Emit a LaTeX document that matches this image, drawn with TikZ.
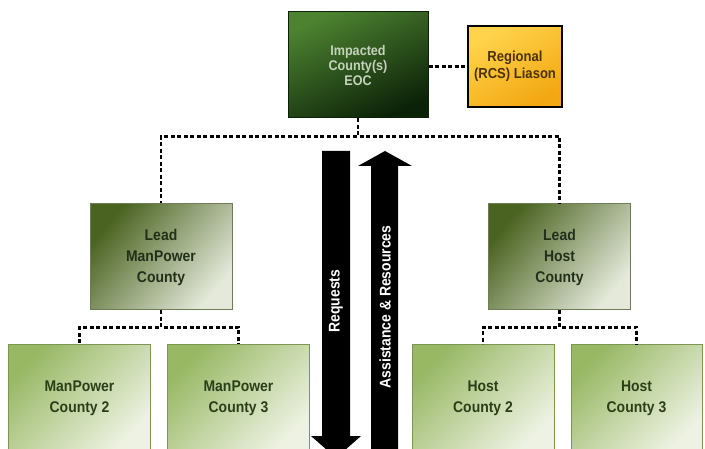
\documentclass[tikz,border=0pt]{standalone}
\usepackage{fontspec}
\setmainfont{Liberation Sans}[FakeStretch=0.9]
\usetikzlibrary{calc}
\definecolor{eoctop}{HTML}{4C8230}
\definecolor{eocmid}{HTML}{1F4A16}
\definecolor{eocbot}{HTML}{0C2208}
\definecolor{eoctext}{HTML}{C4D2BC}
\definecolor{leadtop}{HTML}{4A6320}
\definecolor{leadmid}{HTML}{66803B}
\definecolor{leadbot}{HTML}{E4E9DA}
\definecolor{leadline}{HTML}{6E7D58}
\definecolor{leadtext}{HTML}{22301A}
\definecolor{cotop}{HTML}{98B864}
\definecolor{comid}{HTML}{A5C374}
\definecolor{cobot}{HTML}{EDF2E2}
\definecolor{coline}{HTML}{7D9652}
\definecolor{cotext}{HTML}{2A3F18}
\definecolor{rcstop}{HTML}{FFD44C}
\definecolor{rcsbot}{HTML}{F3A712}
\definecolor{rcstext}{HTML}{4A3300}

\begin{document}
\begin{tikzpicture}[x=1pt,y=-1pt,
  box/.style={rectangle,align=center,inner sep=0pt,line width=1pt,
    font=\bfseries\fontsize{15.5}{21}\selectfont},
  eocbox/.style={box,draw=eocbot,top color=eoctop,middle color=eocmid,
    bottom color=eocbot,shading angle=25,text=eoctext,minimum width=140pt,
    minimum height=106pt,font=\bfseries\fontsize{14}{15}\selectfont},
  rcsbox/.style={box,draw=black,line width=1.6pt,top color=rcstop,bottom color=rcsbot,
    shading angle=30,text=rcstext,minimum width=94pt,minimum height=81pt,
    font=\bfseries\fontsize{14.5}{17}\selectfont},
  leadbox/.style={box,draw=leadline,top color=leadtop,middle color=leadmid,
    bottom color=leadbot,shading angle=50,text=leadtext,minimum width=142pt,
    minimum height=106pt},
  cobox/.style={box,draw=coline,top color=cotop,middle color=comid,
    bottom color=cobot,shading angle=45,text=cotext,minimum width=142pt,
    minimum height=106pt},
  link/.style={draw=black,line width=2.6pt,dash pattern=on 4pt off 2.5pt},
  arrowtext/.style={text=white,rotate=90,font=\bfseries\fontsize{15.5}{17}\selectfont}
  ]
  \clip (0,0) rectangle (705,449);
  \fill[white] (0,0) rectangle (705,449);

  \node[eocbox] (eoc) at (358,65) {Impacted\\County(s)\\EOC};
  \node[rcsbox] (rcs) at (515,66.5) {Regional\\(RCS) Liason};
  \node[leadbox] (leadmp) at (161,257) {Lead\\ManPower\\County};
  \node[leadbox] (leadhost) at (559.5,257) {Lead\\Host\\County};
  \node[cobox] (mp2) at (79.5,398) {ManPower\\County 2};
  \node[cobox] (mp3) at (238.5,398) {ManPower\\County 3};
  \node[cobox] (host2) at (483,398) {Host\\County 2};
  \node[cobox,minimum width=131pt] (host3) at (636.5,398) {Host\\County 3};

  \draw[link] (eoc.east |- rcs.west) -- (rcs.west);
  \draw[link] (eoc.south) -- ($(eoc.south)+(0,18)$) -| (leadmp.north);
  \draw[link] (eoc.south) -- ($(eoc.south)+(0,18)$) -| (leadhost.north);
  \draw[link] (leadmp.south) -- ($(leadmp.south)+(0,17)$) -| (mp2.north);
  \draw[link] (leadmp.south) -- ($(leadmp.south)+(0,17)$) -| (mp3.north);
  \draw[link] (leadhost.south) -- ($(leadhost.south)+(0,17)$) -| (host2.north);
  \draw[link] (leadhost.south) -- ($(leadhost.south)+(0,17)$) -| (host3.north);

  \fill (322,151) -- (350,151) -- (350,436) -- (361,436) -- (336,458)
    -- (311,436) -- (322,436) -- cycle;
  \fill (385,151) -- (412,166) -- (398,166) -- (398,458) -- (371,458)
    -- (371,166) -- (358,166) -- cycle;
  \node[arrowtext] (req) at (336,301) {Requests};
  \node[arrowtext] (res) at (385,307) {Assistance \& Resources};
\end{tikzpicture}
\end{document}
